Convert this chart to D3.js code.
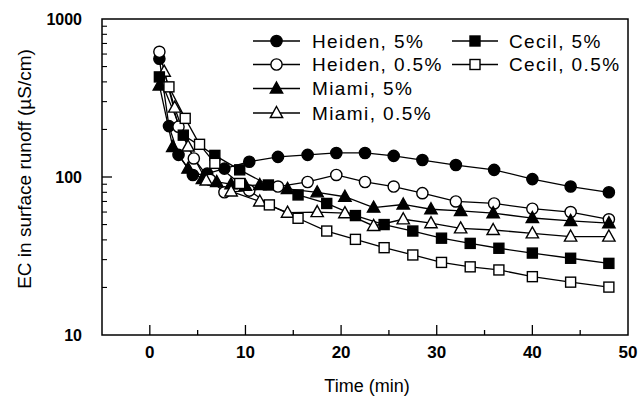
<!DOCTYPE html>
<html>
<head>
<meta charset="utf-8">
<script src="https://cdn.jsdelivr.net/npm/d3@7"></script>
<style>
  body { margin: 0; background: #fff; }
  text { font-family: "Liberation Sans", Arial, sans-serif; fill: #000; }
</style>
</head>
<body>
<div id="chart"></div>
<script>
// values (time in min, EC in uS/cm)
const heiden5T   = [1, 2, 3, 4.5, 6, 7.8, 10.4, 13.4, 16.5, 19.5, 22.5, 25.5, 28.5, 32, 36, 40, 44, 48];
const heiden5V   = [560, 210, 138, 103, 105, 113, 125, 134, 138, 142, 142, 136, 128, 119, 111, 97, 87, 80];
const heiden05T  = [1, 3, 4.6, 6.3, 7.8, 10.4, 13.4, 16.5, 19.5, 22.5, 25.5, 28.5, 32, 36, 40, 44, 48];
const heiden05V  = [620, 208, 131, 96, 80, 82, 87, 93, 103, 93, 87, 79, 70, 68, 63, 60, 54];
const miami5T    = [1, 2.4, 4, 5.5, 7, 8.5, 10, 11.5, 14.4, 17.5, 20.4, 23.4, 26.5, 29.4, 32.5, 35.9, 40, 44, 48];
const miami5V    = [380, 155, 113, 97, 93, 90, 88, 89, 84, 80, 75, 64, 67, 62.5, 61, 59, 55, 52.7, 51];
const miami05T   = [1.5, 2.6, 4, 5.9, 8.5, 11.5, 14.4, 17.5, 20.4, 23.4, 26.5, 29.4, 32.5, 35.9, 40, 44, 48];
const miami05V   = [464, 275, 156, 95, 81, 70, 59.5, 60, 59, 49, 54, 51, 47.3, 46.2, 44, 42, 42];
const cecil5T    = [1, 3.5, 6.8, 9.4, 12.4, 15.5, 18.5, 21.5, 24.5, 27.5, 30.5, 33.5, 36.5, 40, 44, 48];
const cecil5V    = [430, 184, 137, 111, 89, 77, 68, 57, 50, 45.5, 41, 38, 35.4, 33, 30.6, 28.4];
const cecil05T   = [2, 3.7, 5.2, 6.8, 9.4, 12.5, 15.5, 18.5, 21.5, 24.5, 27.5, 30.5, 33.5, 36.5, 40, 44, 48];
const cecil05V   = [372, 235, 161, 122, 91, 66.6, 54.8, 45.5, 40.3, 35.7, 32.1, 28.8, 27, 25.8, 23.4, 21.6, 20.1];

const xTicks = [0, 10, 20, 30, 40, 50];
const yTicks = [10, 100, 1000];

const series = [
  { name: "Heiden, 5%",   t: heiden5T,  v: heiden5V,  shape: "circle",   fill: "#000" },
  { name: "Heiden, 0.5%", t: heiden05T, v: heiden05V, shape: "circle",   fill: "#fff" },
  { name: "Miami, 5%",    t: miami5T,   v: miami5V,   shape: "triangle", fill: "#000" },
  { name: "Miami, 0.5%",  t: miami05T,  v: miami05V,  shape: "triangle", fill: "#fff" },
  { name: "Cecil, 5%",    t: cecil5T,   v: cecil5V,   shape: "square",   fill: "#000" },
  { name: "Cecil, 0.5%",  t: cecil05T,  v: cecil05V,  shape: "square",   fill: "#fff" }
];

(function() {
  const width = 641, height = 399;
  const mLeft = 102, mRight = 628, mTop = 19, mBottom = 335;

  const svg = d3.select("#chart").append("svg")
    .attr("width", width)
    .attr("height", height);

  const x = d3.scaleLinear().domain([-5, 50]).range([mLeft, mRight]);
  const y = d3.scaleLog().domain([10, 1000]).range([mBottom, mTop]);

  // frame
  svg.append("rect")
    .attr("x", mLeft).attr("y", mTop)
    .attr("width", mRight - mLeft).attr("height", mBottom - mTop)
    .attr("fill", "none").attr("stroke", "#000").attr("stroke-width", 1.5);

  // x ticks (inside, pointing up)
  const xMinor = [5, 15, 25, 35, 45];
  svg.append("g").selectAll("line").data(xTicks.filter(d => d < 50)).enter()
    .append("line")
    .attr("x1", d => x(d)).attr("x2", d => x(d))
    .attr("y1", mBottom).attr("y2", mBottom - 10)
    .attr("stroke", "#000").attr("stroke-width", 1.3);
  svg.append("g").selectAll("line").data(xMinor).enter()
    .append("line")
    .attr("x1", d => x(d)).attr("x2", d => x(d))
    .attr("y1", mBottom).attr("y2", mBottom - 5)
    .attr("stroke", "#000").attr("stroke-width", 1.3);

  svg.append("g").selectAll("text").data(xTicks).enter()
    .append("text")
    .attr("x", d => x(d)).attr("y", 352)
    .attr("dy", "0.35em")
    .attr("text-anchor", "middle")
    .style("font-size", "17px")
    .style("font-weight", "bold")
    .text(d => d);

  // y ticks (inside, pointing right)
  const yMinor = [];
  [10, 100].forEach(b => { for (let k = 2; k <= 9; k++) yMinor.push(b * k); });
  svg.append("g").selectAll("line").data(yTicks.filter(d => d > 10 && d < 1000)).enter()
    .append("line")
    .attr("x1", mLeft).attr("x2", mLeft + 10)
    .attr("y1", d => y(d)).attr("y2", d => y(d))
    .attr("stroke", "#000").attr("stroke-width", 1.3);
  svg.append("g").selectAll("line").data(yMinor).enter()
    .append("line")
    .attr("x1", mLeft).attr("x2", mLeft + 5)
    .attr("y1", d => y(d)).attr("y2", d => y(d))
    .attr("stroke", "#000").attr("stroke-width", 1.1);

  svg.append("g").selectAll("text").data(yTicks).enter()
    .append("text")
    .attr("x", mLeft - 20).attr("y", d => y(d))
    .attr("dy", "0.35em")
    .attr("text-anchor", "end")
    .style("font-size", "16px")
    .style("font-weight", "bold")
    .text(d => d);

  // axis titles
  svg.append("text")
    .attr("x", 367).attr("y", 386)
    .attr("dy", "0.35em")
    .attr("text-anchor", "middle")
    .style("font-size", "18px")
    .text("Time (min)");

  svg.append("text")
    .attr("transform", "translate(24, 169) rotate(-90)")
    .attr("dy", "0.35em")
    .attr("text-anchor", "middle")
    .style("font-size", "19px")
    .text("EC in surface runoff (\u00b5S/cm)");

  // markers
  function drawMarker(g, shape, fill, cx, cy) {
    if (shape === "circle") {
      g.append("circle").attr("cx", cx).attr("cy", cy).attr("r", 5.6)
        .attr("fill", fill).attr("stroke", "#000").attr("stroke-width", 1.4);
    } else if (shape === "square") {
      g.append("rect").attr("x", cx - 5).attr("y", cy - 5)
        .attr("width", 10).attr("height", 10)
        .attr("fill", fill).attr("stroke", "#000").attr("stroke-width", 1.4);
    } else {
      const s = 6.5;
      g.append("path")
        .attr("d", `M${cx},${cy - s}L${cx + s * 0.95},${cy + s * 0.7}L${cx - s * 0.95},${cy + s * 0.7}Z`)
        .attr("fill", fill).attr("stroke", "#000").attr("stroke-width", 1.4);
    }
  }

  const line = d3.line().x(d => x(d[0])).y(d => y(d[1]));

  series.forEach(s => {
    const pts = s.t.map((t, i) => [t, s.v[i]]);
    svg.append("path")
      .datum(pts)
      .attr("d", line)
      .attr("fill", "none")
      .attr("stroke", "#000")
      .attr("stroke-width", 1.3);
  });
  series.forEach(s => {
    const g = svg.append("g");
    s.t.forEach((t, i) => drawMarker(g, s.shape, s.fill, x(t), y(s.v[i])));
  });

  // legend
  const legendRows = [41, 64.5, 88.5, 113];
  const legendCols = [{ x0: 253, x1: 300, tx: 312 }, { x0: 452, x1: 498, tx: 509 }];
  series.forEach((s, i) => {
    const col = legendCols[i < 4 ? 0 : 1];
    const ly = legendRows[i < 4 ? i : i - 4];
    const g = svg.append("g");
    g.append("line")
      .attr("x1", col.x0).attr("x2", col.x1)
      .attr("y1", ly).attr("y2", ly)
      .attr("stroke", "#000").attr("stroke-width", 1.3);
    drawMarker(g, s.shape, s.fill, (col.x0 + col.x1) / 2, ly);
    g.append("text")
      .attr("x", col.tx).attr("y", ly)
      .attr("dy", "0.35em")
      .style("font-size", "19px")
      .style("letter-spacing", "1.4px")
      .text(s.name);
  });
})();
</script>
</body>
</html>
